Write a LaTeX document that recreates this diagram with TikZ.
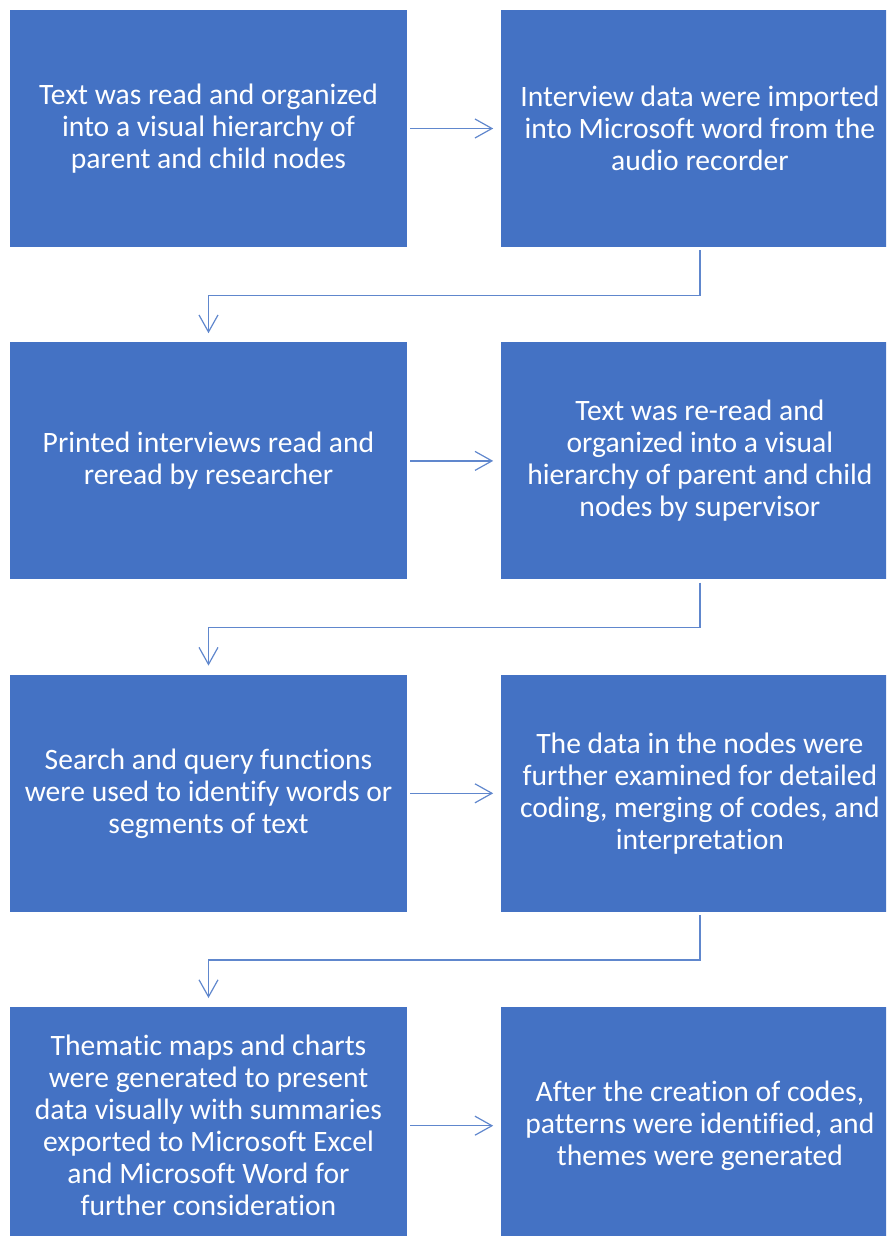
\documentclass[tikz,border=0pt]{standalone}
\usepackage{fontspec}
\setmainfont{Carlito}[Ligatures=NoCommon]
\usetikzlibrary{positioning,arrows.meta}
\definecolor{officeblue}{HTML}{4472C4}
\begin{document}
\begin{tikzpicture}[
  x=1pt, y=-1pt,
  align=center,
  stepbox/.style={fill=officeblue, draw=none, text=white,
    minimum width=397pt, minimum height=237pt, inner sep=0pt,
    font=\fontsize{29.6}{32}\selectfont},
  flow/.style={draw=officeblue!85, line width=1.2pt,
    -{Straight Barb[length=17pt,width=19pt,line width=1.2pt]}}]
\clip (0,0) rectangle (886,1236);
\node [stepbox] (read) at (208.5,128.5)
  {Text was read and organized\\into a visual hierarchy of\\parent and child nodes};
\node [stepbox, right=94pt of read] (import)
  {Interview data were imported\\into Microsoft word from the\\audio recorder};
\node [stepbox, below=95pt of read] (printed)
  {Printed interviews read and\\reread by researcher};
\node [stepbox, right=94pt of printed] (reread)
  {Text was re-read and\\organized into a visual\\hierarchy of parent and child\\nodes by supervisor};
\node [stepbox, below=95pt of printed] (search)
  {Search and query functions\\were used to identify words or\\segments of text};
\node [stepbox, right=94pt of search] (examine)
  {The data in the nodes were\\further examined for detailed\\coding, merging of codes, and\\interpretation};
\node [stepbox, below=95pt of search] (maps)
  {Thematic maps and charts\\were generated to present\\data visually with summaries\\exported to Microsoft Excel\\and Microsoft Word for\\further consideration};
\node [stepbox, right=94pt of maps] (themes)
  {After the creation of codes,\\patterns were identified, and\\themes were generated};
%% across
\draw [flow, shorten <=3pt, shorten >=8pt] (read) -- (import);
\draw [flow, shorten <=3pt, shorten >=8pt] (printed) -- (reread);
\draw [flow, shorten <=3pt, shorten >=8pt] (search) -- (examine);
\draw [flow, shorten <=3pt, shorten >=8pt] (maps) -- (themes);
%% down to next row
\draw [flow, shorten <=3pt, shorten >=9pt] (import.south) -- ++(0,48) -| (printed.north);
\draw [flow, shorten <=3pt, shorten >=9pt] (reread.south) -- ++(0,48) -| (search.north);
\draw [flow, shorten <=3pt, shorten >=9pt] (examine.south) -- ++(0,48) -| (maps.north);
\end{tikzpicture}
\end{document}
